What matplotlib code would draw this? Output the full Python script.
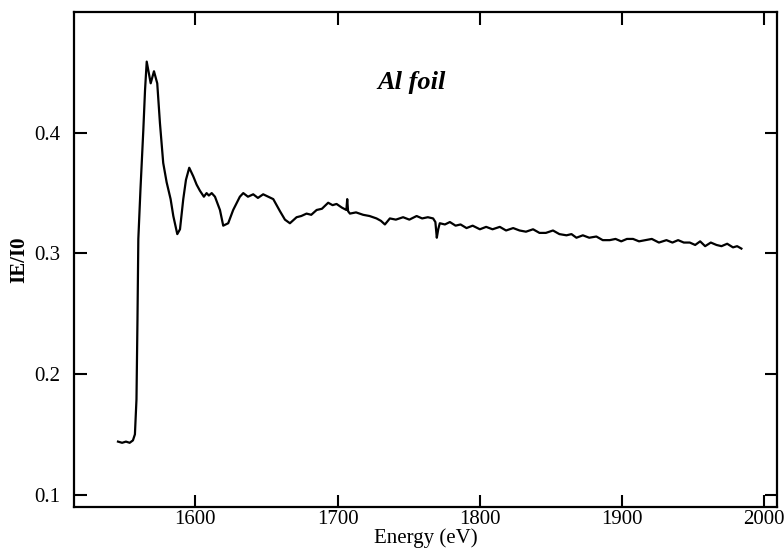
import matplotlib
matplotlib.use("Agg")
import matplotlib.pyplot as plt

# Al foil spectrum
energy = [1545.6, 1548.5, 1551.2, 1553.8, 1556.1, 1557.5, 1558.6, 1559.3, 1559.9,
          1561.4, 1563.4, 1564.6, 1565.8, 1567.2, 1568.6, 1570.9, 1573.2, 1575.1,
          1577.4, 1579.8, 1582.6, 1584.5, 1587.3, 1589.2, 1591.5, 1593.4, 1595.7,
          1598.5, 1600.9, 1603.2, 1606.0, 1607.9, 1609.5, 1611.5, 1613.8, 1617.3,
          1619.6, 1623.1, 1626.6, 1631.3, 1633.7, 1637.0, 1640.7, 1644.0, 1647.7,
          1651.2, 1654.8, 1659.5, 1663.0, 1666.5, 1671.2, 1674.5, 1678.2, 1681.5,
          1685.3, 1689.0, 1693.4, 1696.5, 1699.3, 1703.0, 1706.2, 1706.8, 1707.4,
          1708.7, 1713.0, 1718.0, 1722.5, 1727.4, 1730.5, 1733.3, 1736.8, 1741.0,
          1746.1, 1750.5, 1755.6, 1759.5, 1763.5, 1767.2, 1768.8, 1769.8, 1770.8,
          1771.9, 1775.5, 1779.0, 1783.0, 1786.5, 1790.7, 1795.0, 1800.1, 1804.5,
          1809.0, 1814.1, 1818.5, 1823.5, 1828.0, 1832.5, 1837.5, 1842.0, 1846.5,
          1851.5, 1856.0, 1861.0, 1864.5, 1868.0, 1872.5, 1877.0, 1882.0, 1886.5,
          1891.4, 1895.5, 1899.5, 1903.5, 1907.8, 1912.0, 1916.5, 1921.0, 1926.0,
          1931.3, 1935.5, 1939.5, 1943.5, 1947.7, 1951.5, 1955.0, 1958.5, 1962.5,
          1966.5, 1970.0, 1974.0, 1978.1, 1981.0, 1984.0]
intensity = [0.144, 0.143, 0.144, 0.143, 0.145, 0.150, 0.179, 0.245, 0.312,
             0.353, 0.402, 0.435, 0.459, 0.450, 0.441, 0.451, 0.441, 0.408,
             0.375, 0.359, 0.345, 0.331, 0.316, 0.320, 0.345, 0.361, 0.371,
             0.364, 0.357, 0.352, 0.347, 0.350, 0.348, 0.350, 0.347, 0.336,
             0.323, 0.325, 0.336, 0.347, 0.350, 0.347, 0.349, 0.346, 0.349,
             0.347, 0.345, 0.335, 0.328, 0.325, 0.330, 0.331, 0.333, 0.332,
             0.336, 0.337, 0.342, 0.340, 0.341, 0.338, 0.336, 0.345, 0.335,
             0.333, 0.334, 0.332, 0.331, 0.329, 0.327, 0.324, 0.329, 0.328,
             0.330, 0.328, 0.331, 0.329, 0.330, 0.329, 0.326, 0.313, 0.320,
             0.325, 0.324, 0.326, 0.323, 0.324, 0.321, 0.323, 0.320, 0.322,
             0.320, 0.322, 0.319, 0.321, 0.319, 0.318, 0.320, 0.317, 0.317,
             0.319, 0.316, 0.315, 0.316, 0.313, 0.315, 0.313, 0.314, 0.311,
             0.311, 0.312, 0.310, 0.312, 0.312, 0.310, 0.311, 0.312, 0.309,
             0.311, 0.309, 0.311, 0.309, 0.309, 0.307, 0.310, 0.306, 0.309,
             0.307, 0.306, 0.308, 0.305, 0.306, 0.304]

x_ticks = [1600, 1700, 1800, 1900, 2000]
y_ticks = [0.1, 0.2, 0.3, 0.4]

plt.rcParams['font.family'] = ['Liberation Serif', 'DejaVu Serif']

fig = plt.figure(figsize=(7.84, 5.52), dpi=100)
ax = fig.add_axes([0.095, 0.082, 0.896, 0.896])

ax.plot(energy, intensity, color='black', lw=1.6)

ax.set_xlim(1515, 2009)
ax.set_ylim(0.09, 0.5)
ax.set_xticks(x_ticks)
ax.set_yticks(y_ticks)
ax.set_xticklabels([str(t) for t in x_ticks])
ax.set_yticklabels([f'{t:.1f}' for t in y_ticks])

ax.tick_params(direction='in', top=True, right=True, length=9, width=1.5,
               labelsize=15)
ax.tick_params(axis='x', pad=2)
ax.tick_params(axis='y', pad=10)
for s in ax.spines.values():
    s.set_linewidth(1.6)

ax.set_xlabel('Energy (eV)', fontsize=15, labelpad=0)
ax.set_ylabel('IE/I0', fontsize=15, fontweight='bold', labelpad=4)

ax.text(1728, 0.442, 'Al foil', fontsize=19, fontweight='bold',
        fontstyle='italic', va='center')

fig.savefig('out.png', dpi=100)
